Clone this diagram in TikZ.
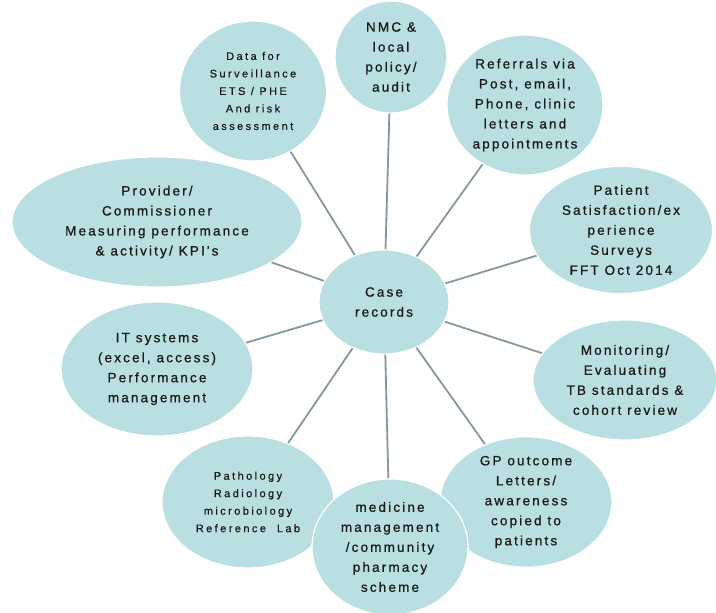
\documentclass[tikz,border=0pt]{standalone}
\usepackage{fontspec}
\usetikzlibrary{shapes.geometric}
\newfontfamily\lblfont[LetterSpace=16,FakeBold=0.8]{Liberation Sans}
\newfontfamily\smlfont[LetterSpace=22,FakeBold=0.6]{Liberation Sans}
\definecolor{bubble}{HTML}{BADFE3}
\definecolor{spoke}{HTML}{879898}
\definecolor{txt}{HTML}{1A1A1A}
\tikzset{
  bub/.style={ellipse, fill=bubble, draw=white, line width=1.2pt, inner sep=0pt,
    align=center, text=txt, font=\lblfont\fontsize{13.5}{20}\selectfont},
  smallbub/.style={bub, font=\smlfont\fontsize{11}{17.5}\selectfont},
  spokeline/.style={draw=spoke, line width=1.8pt}
}
\begin{document}
\begin{tikzpicture}[x=1pt,y=-1pt]
\useasboundingbox[fill=white] (0,0) rectangle (716,613);
% outer bubbles
\node[bub, minimum width=290pt, minimum height=130pt] (prov) at (157,222)
  {Provider/\\Commissioner\\Measuring performance\\\& activity/ KPI's};
\node[smallbub, minimum width=147pt, minimum height=140pt] (data) at (253,91)
  {Data for\\Surveillance\\ETS / PHE\\And risk\\assessment};
\node[bub, minimum width=112pt, minimum height=112pt] (nmc) at (391,57)
  {NMC \&\\local\\policy/\\audit};
\node[bub, minimum width=156pt, minimum height=140pt] (ref) at (525,105)
  {Referrals via\\Post, email,\\Phone, clinic\\letters and\\appointments};
\node[bub, minimum width=183pt, minimum height=122pt] (pat) at (621,230)
  {Patient\\Satisfaction/ex\\perience\\Surveys\\FFT Oct 2014};
\node[bub, minimum width=192pt, minimum height=134pt] (it) at (157,369)
  {IT systems\\(excel, access)\\Performance\\management};
\node[bub, minimum width=184pt, minimum height=120pt] (mon) at (625,380)
  {Monitoring/\\Evaluating\\TB standards \&\\cohort review};
\node[smallbub, minimum width=172pt, minimum height=132pt] (path) at (248,502)
  {Pathology\\Radiology\\microbiology\\Reference\ \ Lab};
\node[bub, minimum width=172pt, minimum height=118pt] (gp) at (526,502)
  {GP outcome\\Letters/\\awareness\\copied to\\patients};
\node[bub, minimum width=156pt, minimum height=136pt] (med) at (390,547)
  {medicine\\management\\/community\\pharmacy\\scheme};
% centre
\node[bub, minimum width=130pt, minimum height=104pt] (case) at (384,302)
  {Case\\records};
% spokes
\foreach \n in {prov,data,nmc,ref,pat,it,mon,path,gp,med}
  \draw[spokeline] (case) -- (\n);
\end{tikzpicture}
\end{document}
